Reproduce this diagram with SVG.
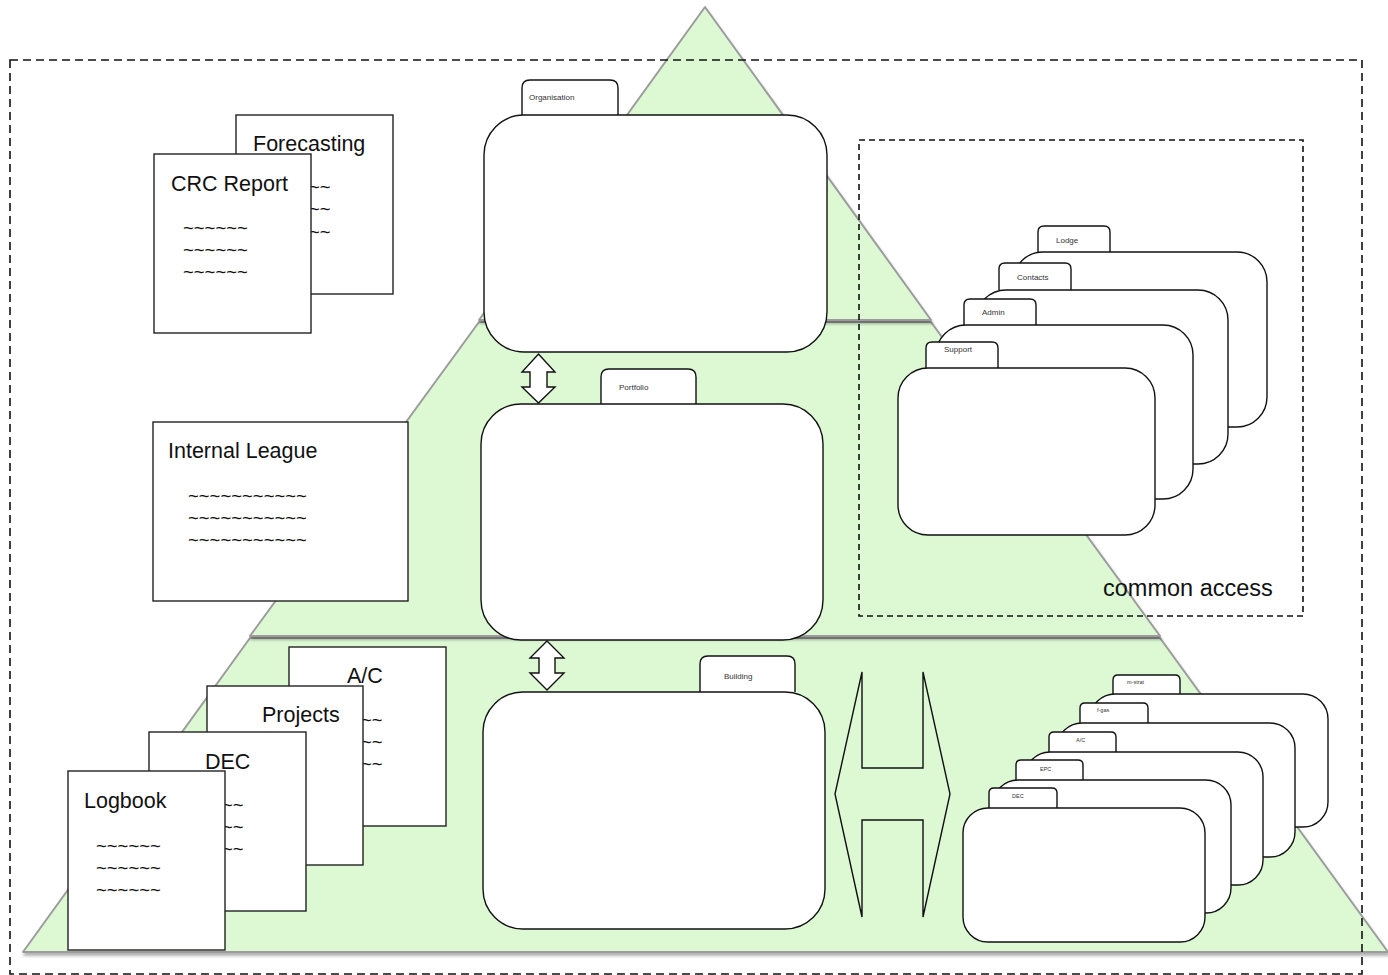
<svg xmlns="http://www.w3.org/2000/svg" width="1388" height="975" viewBox="0 0 1388 975">
<defs>
<style>
.pyr{fill:#ddf9d4;stroke:#9c9c9c;stroke-width:2;stroke-linejoin:round}
.doc{fill:#fff;stroke:#222;stroke-width:1.4}
.box{fill:#fff;stroke:#111;stroke-width:1.4}
.dash{fill:none;stroke:#111;stroke-width:1.6;stroke-dasharray:8 5}
.dash2{fill:none;stroke:#111;stroke-width:1.6;stroke-dasharray:6 4}
.t{font-family:"Liberation Sans",Arial,sans-serif;fill:#111}
.title{font-size:21.5px}
.tl{font-size:18.5px}
.tab{font-size:8px;fill:#333}
.tabs{font-size:5.5px;fill:#333}
.arr{fill:#fff;stroke:#111;stroke-width:1.4;stroke-linejoin:miter}
.harr{fill:none;stroke:#111;stroke-width:1.4}
</style>
<filter id="sh" x="-5%" y="-5%" width="110%" height="110%">
<feDropShadow dx="1" dy="3" stdDeviation="1.5" flood-color="#000" flood-opacity="0.3"/>
</filter>
</defs>
<rect width="1388" height="975" fill="#fff"/>

<g id="pyramid">
<polygon class="pyr" filter="url(#sh)" points="250,638 1160,638 1388,952 23,952"/>
<polygon class="pyr" filter="url(#sh)" points="479,322 931,322 1160,636 250,636"/>
<polygon class="pyr" filter="url(#sh)" points="705,7 931,320 479,320"/>
</g>

<g id="outer-frame">
<rect class="dash" x="10" y="60" width="1352" height="914"/>
</g>

<g id="common-access">
<rect class="dash2" x="859" y="140" width="444" height="476"/>
<text class="t" x="1103" y="596" font-size="23.5">common access</text>
</g>

<g id="doc-forecasting">
<rect class="doc" x="236" y="115" width="157" height="179"/>
<text class="t title" x="253" y="151">Forecasting</text>
<text class="t tl" x="309" y="193">~~</text>
<text class="t tl" x="309" y="215">~~</text>
<text class="t tl" x="309" y="238">~~</text>
</g>
<g id="doc-crc">
<rect class="doc" x="154" y="154" width="157" height="179"/>
<text class="t title" x="171" y="191">CRC Report</text>
<text class="t tl" x="183" y="234">~~~~~~</text>
<text class="t tl" x="183" y="256">~~~~~~</text>
<text class="t tl" x="183" y="278">~~~~~~</text>
</g>
<g id="doc-league">
<rect class="doc" x="153" y="422" width="255" height="179"/>
<text class="t title" x="168" y="458">Internal League</text>
<text class="t tl" x="188" y="502">~~~~~~~~~~~</text>
<text class="t tl" x="188" y="524">~~~~~~~~~~~</text>
<text class="t tl" x="188" y="546">~~~~~~~~~~~</text>
</g>
<g id="doc-ac">
<rect class="doc" x="289" y="647" width="157" height="179"/>
<text class="t title" x="347" y="683">A/C</text>
<text class="t tl" x="361" y="726">~~</text>
<text class="t tl" x="361" y="748">~~</text>
<text class="t tl" x="361" y="770">~~</text>
</g>
<g id="doc-projects">
<rect class="doc" x="207" y="686" width="156" height="179"/>
<text class="t title" x="262" y="722">Projects</text>
</g>
<g id="doc-dec">
<rect class="doc" x="149" y="732" width="157" height="179"/>
<text class="t title" x="205" y="769">DEC</text>
<text class="t tl" x="222" y="811">~~</text>
<text class="t tl" x="222" y="833">~~</text>
<text class="t tl" x="222" y="855">~~</text>
</g>
<g id="doc-logbook">
<rect class="doc" x="68" y="771" width="157" height="179"/>
<text class="t title" x="84" y="808">Logbook</text>
<text class="t tl" x="96" y="852">~~~~~~</text>
<text class="t tl" x="96" y="874">~~~~~~</text>
<text class="t tl" x="96" y="896">~~~~~~</text>
</g>

<g id="organisation">
<path class="box" d="M522,115 V88 Q522,80 530,80 H610 Q618,80 618,88 V115"/>
<rect class="box" x="484" y="115" width="343" height="237" rx="40" ry="40"/>
<text class="t tab" x="529" y="100">Organisation</text>
</g>
<g id="portfolio">
<path class="box" d="M601,404 V377 Q601,369 609,369 H688 Q696,369 696,377 V404"/>
<rect class="box" x="481" y="404" width="342" height="236" rx="40" ry="40"/>
<text class="t tab" x="619" y="390">Portfolio</text>
</g>
<g id="building">
<path class="box" d="M700,692 V664 Q700,656 708,656 H787 Q795,656 795,664 V692"/>
<rect class="box" x="483" y="692" width="342" height="237" rx="40" ry="40"/>
<text class="t tab" x="724" y="679">Building</text>
</g>

<g id="lodge">
<path class="box" d="M1038,252 V232 Q1038,226 1044,226 H1104 Q1110,226 1110,232 V252"/>
<rect class="box" x="1013" y="252" width="254" height="175" rx="30" ry="30"/>
<text class="t tab" x="1056" y="243" font-size="7.5">Lodge</text>
</g>
<g id="contacts">
<path class="box" d="M999,290 V269 Q999,263 1005,263 H1065 Q1071,263 1071,269 V290"/>
<rect class="box" x="976" y="290" width="252" height="174" rx="30" ry="30"/>
<text class="t tab" x="1017" y="280" font-size="7.5">Contacts</text>
</g>
<g id="admin">
<path class="box" d="M964,325 V305 Q964,299 970,299 H1030 Q1036,299 1036,305 V325"/>
<rect class="box" x="936" y="325" width="257" height="174" rx="30" ry="30"/>
<text class="t tab" x="982" y="315" font-size="7.5">Admin</text>
</g>
<g id="support">
<path class="box" d="M926,368 V348 Q926,342 932,342 H992 Q998,342 998,348 V368"/>
<rect class="box" x="898" y="368" width="257" height="167" rx="30" ry="30"/>
<text class="t tab" x="944" y="352" font-size="7.5">Support</text>
</g>

<g id="m-strat">
<path class="box" d="M1113,694 V680 Q1113,675 1118,675 H1175 Q1180,675 1180,680 V694"/>
<rect class="box" x="1090" y="694" width="238" height="133" rx="25" ry="25"/>
<text class="t tabs" x="1127" y="684">m-strat</text>
</g>
<g id="f-gas">
<path class="box" d="M1080,723 V708 Q1080,703 1085,703 H1143 Q1148,703 1148,708 V723"/>
<rect class="box" x="1057" y="723" width="238" height="134" rx="25" ry="25"/>
<text class="t tabs" x="1097" y="712">f-gas</text>
</g>
<g id="ac-tab">
<path class="box" d="M1049,752 V737 Q1049,732 1054,732 H1111 Q1116,732 1116,737 V752"/>
<rect class="box" x="1025" y="752" width="238" height="133" rx="25" ry="25"/>
<text class="t tabs" x="1076" y="742">A/C</text>
</g>
<g id="epc">
<path class="box" d="M1016,780 V765 Q1016,760 1021,760 H1078 Q1083,760 1083,765 V780"/>
<rect class="box" x="993" y="780" width="238" height="133" rx="25" ry="25"/>
<text class="t tabs" x="1040" y="771">EPC</text>
</g>
<g id="dec-tab">
<path class="box" d="M989,808 V793 Q989,788 994,788 H1052 Q1057,788 1057,793 V808"/>
<rect class="box" x="963" y="808" width="242" height="134" rx="25" ry="25"/>
<text class="t tabs" x="1012" y="798">DEC</text>
</g>

<g id="connectors">
<polygon class="arr" points="538.5,354 555,372 547,372 547,387 555,387 538.5,403 522,387 530,387 530,372 522,372"/>
<polygon class="arr" points="547,641 564,658 555,658 555,673 564,673 547,690 530,673 539,673 539,658 530,658"/>
<polygon class="harr" points="835,794 862,672 862,768 923,768 923,672 950,794 923,917 923,820 862,820 862,917"/>
</g>
</svg>
